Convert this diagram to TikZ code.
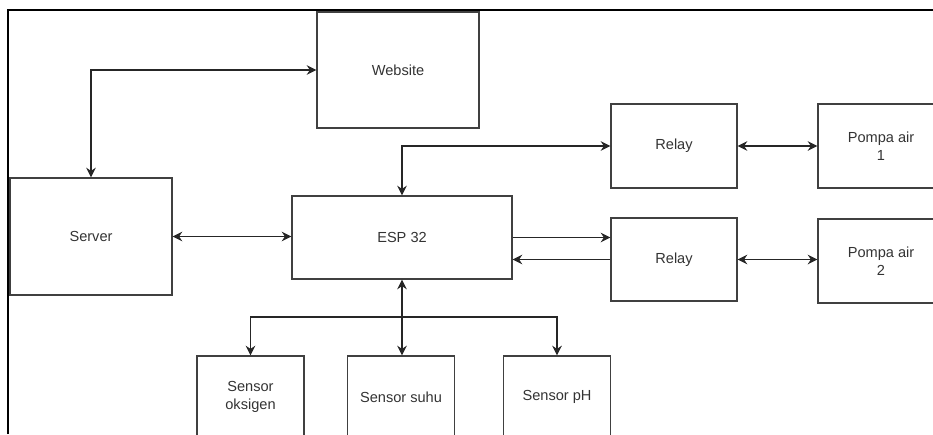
\documentclass[tikz,border=0pt]{standalone}
\usepackage{fontspec}
\setmainfont{Liberation Sans}
\usetikzlibrary{arrows.meta,positioning,calc}
\usepackage{xcolor}

\begin{document}
\begin{tikzpicture}[
  block/.style={draw=black!75, line width=0.7pt, align=center, text=black!80,
    font=\fontsize{8.3}{10.5}\selectfont, inner sep=0pt},
  link/.style={line width=0.9pt, black!85, {Stealth[length=5.5pt,width=5.5pt]}-{Stealth[length=5.5pt,width=5.5pt]}},
  oneway/.style={line width=0.9pt, black!85, -{Stealth[length=5.5pt,width=5.5pt]}}
]
\useasboundingbox (0,0) rectangle (18.66,-8.68);
\clip (0,0) rectangle (18.66,-8.68);

% frame
\draw[line width=1.1pt] (0.16,-8.68) -- (0.16,-0.2) -- (18.66,-0.2);

\node[block, minimum width=3.24cm, minimum height=2.32cm] (web) at (7.96,-1.40) {Website};
\node[block, minimum width=3.24cm, minimum height=2.34cm] (server) at (1.82,-4.73) {Server};
\node[block, minimum width=4.40cm, minimum height=1.66cm] (esp) at (8.04,-4.75) {ESP 32};
\node[block, minimum width=2.52cm, minimum height=1.68cm] (relay1) at (13.48,-2.92) {Relay};
\node[block, minimum width=2.52cm, minimum height=1.66cm] (relay2) at (13.48,-5.19) {Relay};
\node[block, minimum width=2.52cm, minimum height=1.68cm] (pompa1) at (17.62,-2.92) {Pompa air\\1};
\node[block, minimum width=2.52cm, minimum height=1.68cm] (pompa2) at (17.62,-5.22) {Pompa air\\2};
\node[block, minimum width=2.14cm, minimum height=1.64cm] (oksigen) at (5.01,-7.94) {Sensor\\oksigen};
\node[block, minimum width=2.14cm, minimum height=1.64cm] (suhu) at (8.02,-7.94) {Sensor suhu};
\node[block, minimum width=2.14cm, minimum height=1.64cm] (ph) at (11.14,-7.94) {Sensor pH};

\coordinate (split) at (8.02,-6.34);

\draw[link] (web.west) -| (server.north);
\draw[link] (server.east) -- (server.east -| esp.west);
\draw[link] (relay1.west) -| (esp.north);
\draw[oneway] (esp.east) -- (esp.east -| relay2.west);
\draw[oneway] (relay2.west) -- (relay2.west -| esp.east);
\draw[link] (relay1.east) -- (pompa1.west);
\draw[link] (relay2.east) -- (relay2.east -| pompa2.west);
\draw[link] (esp.south) -- (esp.south |- suhu.north);
\draw[oneway] (split) -| (oksigen.north);
\draw[oneway] (split) -| (ph.north);

\end{tikzpicture}
\end{document}
